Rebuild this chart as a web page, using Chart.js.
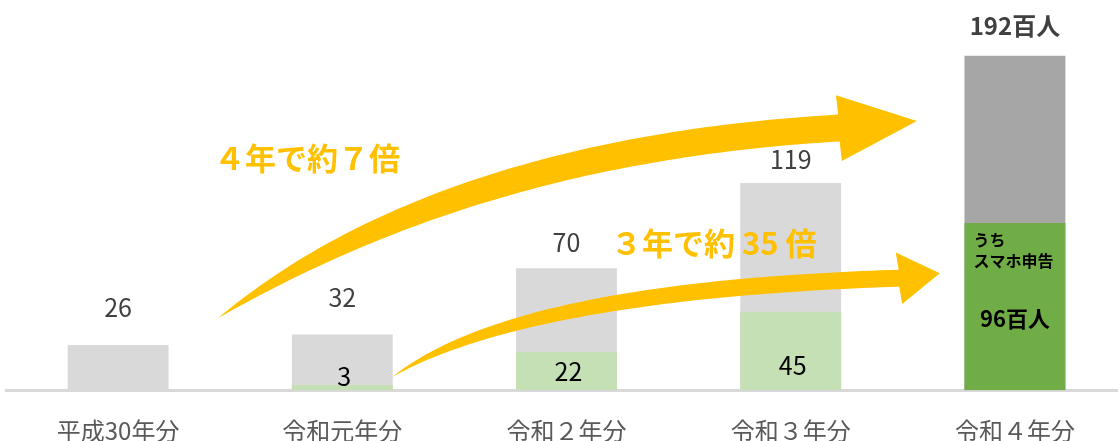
<!DOCTYPE html>
<html lang="ja">
<head>
<meta charset="utf-8">
<script src="https://cdn.jsdelivr.net/npm/chart.js@4.4.0/dist/chart.umd.min.js"></script>
<style>
  html, body { margin: 0; padding: 0; background: #fff; overflow: hidden; }
  #wrap { position: relative; width: 1127px; height: 471px; }
</style>
</head>
<body>
<div id="wrap"><canvas id="barChart"></canvas></div>
<script>
// 申告者数（百人）
var years = ["平成30年分", "令和元年分", "令和２年分", "令和３年分", "令和４年分"];
var totals = [26, 32, 70, 119, 192];
var smartphone = [null, 3, 22, 45, 96];

var FONT = '"Noto Sans CJK JP", "Noto Sans", sans-serif';
var ORANGE = '#ffc000';

// how far above each grey bar its number sits (px)
var totalLift = [37, 37, 26, 23, 30];
// how far above the axis the green bar numbers sit (px)
var greenLift = [0, 14, 19, 25];

// arrows: points given as [category index, value] so they follow the scales
var arrows = [
    { tail: [0.446, 41.4], bend: [1.524, 137.9], neck: [3.215, 150.5], tip: [3.563, 154.5], shaft: 27, head: 33, taper: 4 },
    { tail: [1.222, 7.5], bend: [1.792, 57.4], neck: [3.483, 64.3], tip: [3.665, 67.2], shaft: 17, head: 26, taper: 3 }
];
var arrowTexts = [
    { text: "４年で約７倍", at: [0.428, 133.3] },
    { text: "３年で約 35 倍", at: [2.198, 84.4] }
];

function toPx(chart, p) {
    return { x: chart.scales.x.getPixelForValue(p[0]), y: chart.scales.y.getPixelForValue(p[1]) };
}

function drawArrow(ctx, chart, a) {
    var p0 = toPx(chart, a.tail), p1 = toPx(chart, a.bend), p2 = toPx(chart, a.neck), tip = toPx(chart, a.tip);
    var n = 80, upper = [], lower = [];
    for (var i = 0; i <= n; i++) {
        var t = i / n, u = 1 - t;
        var x = u * u * p0.x + 2 * u * t * p1.x + t * t * p2.x;
        var y = u * u * p0.y + 2 * u * t * p1.y + t * t * p2.y;
        var dx = 2 * u * (p1.x - p0.x) + 2 * t * (p2.x - p1.x);
        var dy = 2 * u * (p1.y - p0.y) + 2 * t * (p2.y - p1.y);
        var len = Math.hypot(dx, dy);
        var w = a.shaft / 2 * (1 - Math.pow(u, a.taper));
        upper.push([x + dy / len * w, y - dx / len * w]);
        lower.push([x - dy / len * w, y + dx / len * w]);
    }
    var hx = tip.x - p2.x, hy = tip.y - p2.y, hl = Math.hypot(hx, hy);
    var nx = hy / hl * a.head, ny = -hx / hl * a.head;

    ctx.beginPath();
    ctx.moveTo(upper[0][0], upper[0][1]);
    for (var j = 1; j < upper.length; j++) ctx.lineTo(upper[j][0], upper[j][1]);
    ctx.lineTo(p2.x + nx, p2.y + ny);
    ctx.lineTo(tip.x, tip.y);
    ctx.lineTo(p2.x - nx, p2.y - ny);
    for (var k = lower.length - 1; k >= 0; k--) ctx.lineTo(lower[k][0], lower[k][1]);
    ctx.closePath();
    ctx.fillStyle = ORANGE;
    ctx.fill();
}

var labelsPlugin = {
    id: 'labelsPlugin',
    afterDatasetsDraw: function(chart) {
        var ctx = chart.ctx;
        var green = chart.getDatasetMeta(0).data;
        var grey = chart.getDatasetMeta(1).data;
        var last = totals.length - 1;
        ctx.save();
        ctx.textAlign = 'center';
        ctx.textBaseline = 'middle';

        // totals above the grey bars
        totals.forEach(function(v, i) {
            var bar = grey[i];
            ctx.fillStyle = '#404040';
            if (i === last) {
                ctx.font = 'bold 24px ' + FONT;
                ctx.fillText(v + '百人', bar.x, bar.y - totalLift[i]);
            } else {
                ctx.font = '25px ' + FONT;
                ctx.fillText(String(v), bar.x, bar.y - totalLift[i]);
            }
        });

        // smartphone filers inside the green bars
        smartphone.forEach(function(v, i) {
            if (v === null) return;
            var bar = green[i];
            ctx.fillStyle = '#000';
            if (i === last) {
                ctx.font = 'bold 16px ' + FONT;
                ctx.textAlign = 'left';
                var left = bar.x - bar.width / 2 + 9;
                ctx.fillText('うち', left, bar.y + 17);
                ctx.fillText('スマホ申告', left, bar.y + 38);
                ctx.textAlign = 'center';
                ctx.font = 'bold 22px ' + FONT;
                ctx.fillText(v + '百人', bar.x, bar.y + 96);
            } else {
                ctx.font = '25px ' + FONT;
                ctx.fillText(String(v), bar.x + 2, bar.base - greenLift[i]);
            }
        });

        // growth arrows and their captions
        arrows.forEach(function(a) { drawArrow(ctx, chart, a); });
        ctx.font = 'bold 31px ' + FONT;
        ctx.fillStyle = ORANGE;
        ctx.textAlign = 'left';
        arrowTexts.forEach(function(t) {
            var p = toPx(chart, t.at);
            ctx.fillText(t.text, p.x, p.y);
        });
        ctx.restore();
    }
};

var ctxB = document.getElementById('barChart');
var myBarChart = new Chart(ctxB, {
    type: 'bar',
    data: {
        labels: years,
        datasets: [{
            label: 'うちスマホ申告',
            data: smartphone,
            backgroundColor: ['#c5e0b4', '#c5e0b4', '#c5e0b4', '#c5e0b4', '#70ad47'],
            grouped: false,
            categoryPercentage: 1,
            barPercentage: 0.45
        }, {
            label: '申告者数',
            data: totals,
            backgroundColor: ['#d9d9d9', '#d9d9d9', '#d9d9d9', '#d9d9d9', '#a6a6a6'],
            grouped: false,
            categoryPercentage: 1,
            barPercentage: 0.45
        }]
    },
    options: {
        responsive: true,
        maintainAspectRatio: false,
        animation: false,
        layout: { padding: { top: 7, left: 6, right: 0, bottom: 0 } },
        plugins: {
            legend: { display: false },
            tooltip: { enabled: false }
        },
        scales: {
            x: {
                grid: { display: false, drawTicks: false },
                border: { display: true, color: '#d9d9d9', width: 3 },
                ticks: { color: '#595959', font: { family: FONT, size: 24 }, padding: 26 }
            },
            y: { display: false, min: 0, max: 220 }
        }
    },
    plugins: [labelsPlugin]
});
</script>
</body>
</html>
